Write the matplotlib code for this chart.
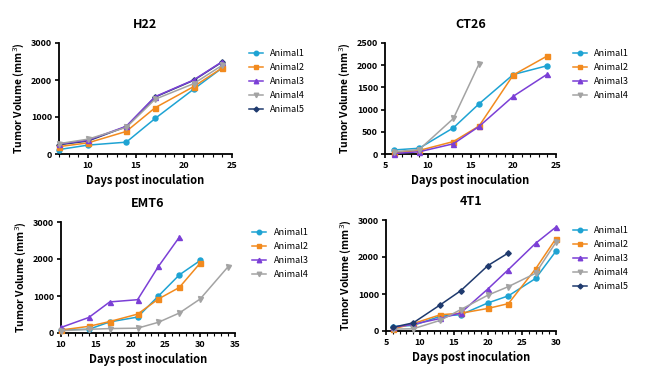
import matplotlib
matplotlib.use("Agg")
from matplotlib import pyplot as plt
from matplotlib.ticker import MultipleLocator

plt.rcParams['font.family'] = ['Noto Sans CJK SC', 'DejaVu Sans']

colors = ['#1ea3d3', '#f28a1e', '#7b3fd6', '#a3a3a3', '#1f3a6e']
markers = ['o', 's', '^', 'v', 'D']

# H22
h22_days = [7, 10, 14, 17, 21, 24]
h22_a1 = [120, 240, 320, 960, 1750, 2330]
h22_a2 = [200, 300, 610, 1250, 1820, 2330]
h22_a3 = [270, 370, 750, 1550, 2000, 2500]
h22_a4 = [280, 400, 720, 1480, 1900, 2400]
h22_a5 = [250, 350, 740, 1540, 1990, 2490]

# CT26
ct26_days = [6, 9, 13, 16, 20, 24]
ct26_a1 = [90, 130, 590, 1130, 1790, 1990]
ct26_a2 = [30, 80, 280, 630, 1780, 2210]
ct26_a3 = [10, 50, 230, 620, 1300, 1800]
ct26_a4 = [50, 100, 800, 2030]

# EMT6
emt6_days = [10, 14, 17, 21, 24, 27, 30, 34]
emt6_a1 = [90, 100, 300, 430, 1000, 1570, 1960]
emt6_a2 = [80, 180, 310, 510, 920, 1230, 1890]
emt6_a3 = [150, 420, 840, 900, 1800, 2590]
emt6_a4 = [60, 100, 120, 130, 290, 540, 920, 1790]

# 4T1
t41_days = [6, 9, 13, 16, 20, 23, 27, 30]
t41_a1 = [120, 150, 400, 440, 760, 950, 1420, 2160]
t41_a2 = [50, 200, 440, 480, 610, 740, 1680, 2500]
t41_a3 = [100, 180, 340, 490, 1140, 1660, 2370, 2810]
t41_a4 = [50, 60, 290, 580, 970, 1200, 1560, 2400]
t41_a5 = [100, 220, 710, 1090, 1770, 2110]

panels = [
    ('H22', h22_days, [h22_a1, h22_a2, h22_a3, h22_a4, h22_a5], (7, 25), (0, 3000), 1000, [10, 15, 20, 25]),
    ('CT26', ct26_days, [ct26_a1, ct26_a2, ct26_a3, ct26_a4], (5, 25), (0, 2500), 500, [5, 10, 15, 20, 25]),
    ('EMT6', emt6_days, [emt6_a1, emt6_a2, emt6_a3, emt6_a4], (10, 35), (0, 3000), 1000, [10, 15, 20, 25, 30, 35]),
    ('4T1', t41_days, [t41_a1, t41_a2, t41_a3, t41_a4, t41_a5], (5, 30), (0, 3000), 1000, [5, 10, 15, 20, 25, 30]),
]

# axes boxes in pixels: left, right, top, bottom
boxes = [(59, 232, 43, 154), (385, 556, 43, 154), (61, 235, 222, 333), (386, 556, 220, 331)]

W, H = 650, 377
fig = plt.figure(figsize=(6.5, 3.77), dpi=100)

for (title, days, series, xl, yl, ystep, xt), (l, r, t, b) in zip(panels, boxes):
    ax = fig.add_axes([l / W, 1 - b / H, (r - l) / W, (b - t) / H])
    for i, vals in enumerate(series):
        # in H22 animal5 sits underneath the others
        z = 2.5 if (title == 'H22' and i == 4) else 3 + i * 0.1
        ax.plot(days[:len(vals)], vals, color=colors[i], marker=markers[i],
                markersize=3.6 if markers[i] != 'D' else 2.8, linewidth=1.1,
                label='Animal%d' % (i + 1), clip_on=False, zorder=z)
    ax.set_xlim(*xl)
    ax.set_ylim(*yl)
    ax.set_xticks(xt)
    ax.xaxis.set_minor_locator(MultipleLocator(1))
    ax.yaxis.set_major_locator(MultipleLocator(ystep))
    for s in ['top', 'right']:
        ax.spines[s].set_visible(False)
    for s in ['left', 'bottom']:
        ax.spines[s].set_linewidth(1.3)
    ax.tick_params(which='major', direction='out', length=3, width=1.2, labelsize=6.5, pad=2)
    ax.tick_params(which='minor', direction='out', length=1.8, width=0.8)
    for lab in ax.get_xticklabels() + ax.get_yticklabels():
        lab.set_fontweight('bold')
    ax.set_title(title, fontsize=9, fontweight='bold', pad=11)
    ax.set_xlabel('Days post inoculation', fontsize=8, fontweight='bold', labelpad=3)
    ax.set_ylabel('Tumor Volume (mm$^3$)', fontsize=7.5, fontweight='bold', labelpad=3)
    ax.legend(loc='upper left', bbox_to_anchor=(1.05, 1.02), frameon=False, fontsize=6.5,
              handlelength=1.6, labelspacing=0.55, markerscale=0.9)

fig.savefig('out.png', dpi=100)
